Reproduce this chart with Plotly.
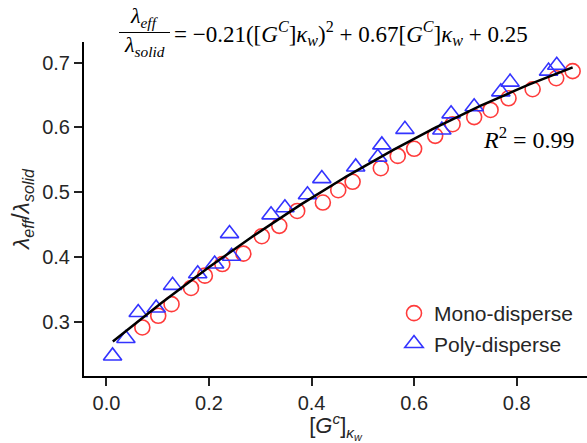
import numpy as np
import plotly.graph_objects as go

# ---- data ----
mono_x = [0.070, 0.101, 0.127, 0.165, 0.192, 0.226, 0.267, 0.303, 0.337, 0.372,
          0.422, 0.452, 0.480, 0.535, 0.568, 0.600, 0.641, 0.675, 0.717, 0.749,
          0.784, 0.831, 0.877, 0.909]
mono_y = [0.291, 0.309, 0.327, 0.352, 0.371, 0.389, 0.405, 0.432, 0.448, 0.471,
          0.484, 0.503, 0.516, 0.537, 0.556, 0.567, 0.587, 0.605, 0.616, 0.627,
          0.645, 0.659, 0.676, 0.687]

poly_x = [0.012, 0.038, 0.062, 0.097, 0.129, 0.178, 0.211, 0.240, 0.244, 0.321,
          0.348, 0.392, 0.420, 0.486, 0.529, 0.537, 0.582, 0.654, 0.672, 0.717,
          0.769, 0.787, 0.862, 0.878]
poly_y = [0.247, 0.274, 0.314, 0.321, 0.356, 0.374, 0.389, 0.436, 0.401, 0.465,
          0.476, 0.496, 0.521, 0.539, 0.554, 0.573, 0.597, 0.596, 0.621, 0.632,
          0.655, 0.670, 0.687, 0.696]

# quadratic fit curve as drawn in the reference (coefficients)
fit_coef = [-0.198, 0.655, 0.261]
fit_range = [0.0125, 0.909]

x_ticks = [0.0, 0.2, 0.4, 0.6, 0.8]
y_ticks = [0.3, 0.4, 0.5, 0.6, 0.7]

W, H = 587, 443
ML, MR, MT, MB = 84, 0, 42, 67
PW, PH = W - ML - MR, H - MT - MB


def px(x):
    return (x - ML) / PW


def py(y):
    return (H - MB - y) / PH


fx = np.linspace(fit_range[0], fit_range[1], 200)
fy = np.polyval(fit_coef, fx)

SANS = "Liberation Sans, Arial, sans-serif"
SERIF = "Liberation Serif, DejaVu Serif, serif"

fig = go.Figure()
fig.add_trace(go.Scatter(
    x=mono_x, y=mono_y, mode="markers", name="Mono-disperse",
    marker=dict(symbol="circle-open", size=15, color="#ff3b3b",
                line=dict(width=1.6, color="#ff3b3b")),
))
fig.add_trace(go.Scatter(
    x=poly_x, y=poly_y, mode="markers", name="Poly-disperse",
    marker=dict(symbol="triangle-up-open", size=16, color="#3333ff",
                line=dict(width=1.6, color="#3333ff")),
))
fig.add_trace(go.Scatter(
    x=fx, y=fy, mode="lines", showlegend=False,
    line=dict(color="black", width=2.5),
))

axis_common = dict(
    showline=True, linecolor="black", linewidth=2,
    ticks="outside", ticklen=8, tickwidth=1.5, tickcolor="#222",
    showgrid=False, zeroline=False, mirror=False,
    tickfont=dict(family=SANS, size=20, color="#262626"),
)

fig.update_layout(
    width=W, height=H,
    margin=dict(l=ML, r=MR, t=MT, b=MB),
    paper_bgcolor="white", plot_bgcolor="white",
    xaxis=dict(range=[-0.0437, 0.937], tickvals=x_ticks, tickformat=".1f",
               title=dict(text="[<i>G</i><sup><i>c</i></sup>]<sub><i>κ<sub>w</sub></i></sub>",
                          font=dict(family=SANS, size=22, color="#262626"), standoff=4),
               **axis_common),
    yaxis=dict(range=[0.216, 0.732], tickvals=y_ticks, tickformat=".1f",
               title=dict(text="<i>λ<sub>eff</sub></i>/<i>λ<sub>solid</sub></i>",
                          font=dict(family=SANS, size=23, color="#262626"), standoff=6),
               **axis_common),
    legend=dict(x=px(394), xanchor="left", y=py(293), yanchor="top",
                font=dict(family=SANS, size=21, color="#262626"),
                bgcolor="rgba(0,0,0,0)", tracegroupgap=0),
    showlegend=True,
)

# equation: fraction + right-hand side
fig.add_annotation(xref="paper", yref="paper", x=px(144.5), y=py(17),
                   text="<i>λ<sub>eff</sub></i>", showarrow=False,
                   font=dict(family=SERIF, size=22, color="black"),
                   xanchor="center", yanchor="middle")
fig.add_annotation(xref="paper", yref="paper", x=px(144.5), y=py(46),
                   text="<i>λ<sub>solid</sub></i>", showarrow=False,
                   font=dict(family=SERIF, size=22, color="black"),
                   xanchor="center", yanchor="middle")
fig.add_shape(type="line", xref="paper", yref="paper",
              x0=px(119), x1=px(170), y0=py(32.5), y1=py(32.5),
              line=dict(color="black", width=1.2))
fig.add_annotation(xref="paper", yref="paper", x=px(172), y=py(33),
                   text="= −0.21([<i>G</i><sup><i>C</i></sup>]<i>κ<sub>w</sub></i>)<sup>2</sup>"
                        " + 0.67[<i>G</i><sup><i>C</i></sup>]<i>κ<sub>w</sub></i> + 0.25",
                   showarrow=False, font=dict(family=SERIF, size=23, color="black"),
                   xanchor="left", yanchor="middle")
fig.add_annotation(xref="paper", yref="paper", x=px(577), y=py(138),
                   text="<i>R</i><sup>2</sup> = 0.99", showarrow=False,
                   font=dict(family=SERIF, size=24, color="black"),
                   xanchor="right", yanchor="middle")

fig.write_html("out.html")
